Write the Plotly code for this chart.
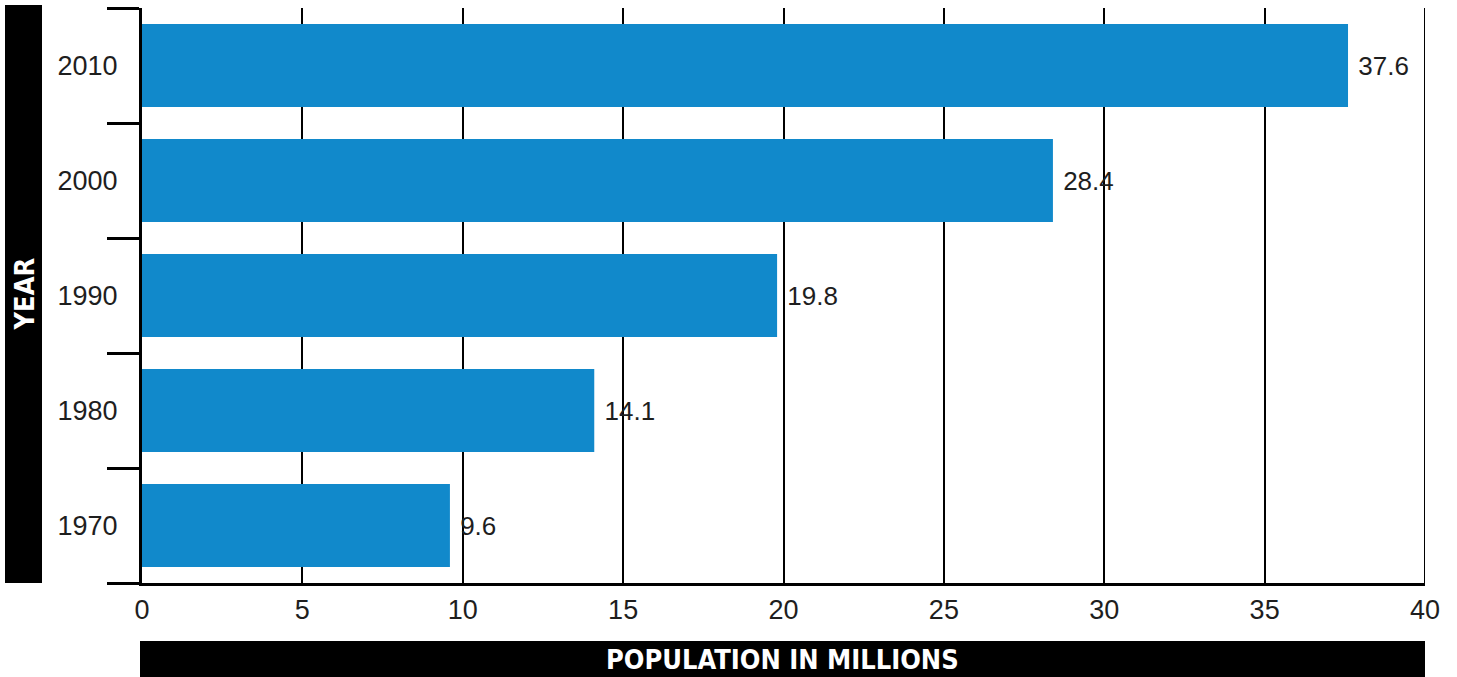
import plotly.graph_objects as go

# Population by census year (millions)
years = ["1970", "1980", "1990", "2000", "2010"]
population = [9.6, 14.1, 19.8, 28.4, 37.6]
x_ticks = [0, 5, 10, 15, 20, 25, 30, 35, 40]

BAR_COLOR = "#1189CB"
TEXT_COLOR = "#1e1e1e"
LABEL_FONT = "Liberation Sans, Arial, sans-serif"
TITLE_FONT = "DejaVu Sans Condensed, DejaVu Sans, sans-serif"

W, H = 1457, 677
M_L, M_R, M_T, M_B = 142, 32, 8, 94
plot_w = W - M_L - M_R
plot_h = H - M_T - M_B

fig = go.Figure()
fig.add_trace(go.Bar(
    x=population,
    y=years,
    orientation="h",
    marker=dict(color=BAR_COLOR, line=dict(width=0)),
    width=0.72,
    text=population,
    texttemplate="\u00a0%{x:.1f}",
    textposition="outside",
    cliponaxis=False,
    outsidetextfont=dict(family=LABEL_FONT, size=26, color=TEXT_COLOR),
    hoverinfo="skip",
))

# pixel -> paper helpers for the title bands
def px_x(px):
    return (px - M_L) / plot_w

def px_y(py):
    return (H - M_B - py) / plot_h

# closing grid line at the right end of the scale
fig.add_shape(type="line", xref="x", yref="paper",
              x0=40, x1=40, y0=0, y1=1,
              line=dict(color="black", width=2), layer="below")

# black title bands
fig.add_shape(type="rect", xref="paper", yref="paper",
              x0=px_x(5), x1=px_x(42), y0=px_y(583), y1=px_y(5),
              fillcolor="black", line=dict(width=0), layer="above")
fig.add_shape(type="rect", xref="paper", yref="paper",
              x0=px_x(140), x1=px_x(1425), y0=px_y(677), y1=px_y(641),
              fillcolor="black", line=dict(width=0), layer="above")

title_font = dict(family=TITLE_FONT, size=27, color="white", weight="bold")

def condensed(s):
    return f'<span style="font-stretch:condensed">{s}</span>'

fig.add_annotation(
    x=px_x(23.5), y=px_y(294), xref="paper", yref="paper",
    text=condensed("YEAR"), showarrow=False, textangle=-90,
    xanchor="center", yanchor="middle", font=title_font,
)
fig.add_annotation(
    x=px_x(782.5), y=px_y(659), xref="paper", yref="paper",
    text=condensed("POPULATION IN MILLIONS"), showarrow=False,
    xanchor="center", yanchor="middle", font=title_font,
)

fig.update_layout(
    width=W, height=H,
    margin=dict(l=M_L, r=M_R, t=M_T, b=M_B, pad=0),
    paper_bgcolor="white", plot_bgcolor="white",
    showlegend=False,
)

fig.update_xaxes(
    range=[0, 40],
    tickmode="array", tickvals=x_ticks, ticktext=[str(t) for t in x_ticks],
    showgrid=True, gridcolor="black", gridwidth=2,
    showline=True, linecolor="black", linewidth=2.5,
    ticks="", zeroline=False,
    tickfont=dict(family=LABEL_FONT, size=27, color=TEXT_COLOR),
    ticklabelstandoff=1,
    fixedrange=True,
)

fig.update_yaxes(
    type="category",
    categoryorder="array", categoryarray=years,
    range=[-0.5, 4.5],
    showgrid=False,
    showline=True, linecolor="black", linewidth=3,
    ticks="outside", tickson="boundaries", ticklen=32, tickwidth=2.5,
    tickcolor="black",
    tickfont=dict(family=LABEL_FONT, size=27, color=TEXT_COLOR),
    ticklabelstandoff=16,
    zeroline=False,
    fixedrange=True,
)

fig.write_html("out.html", config={"displayModeBar": False})
